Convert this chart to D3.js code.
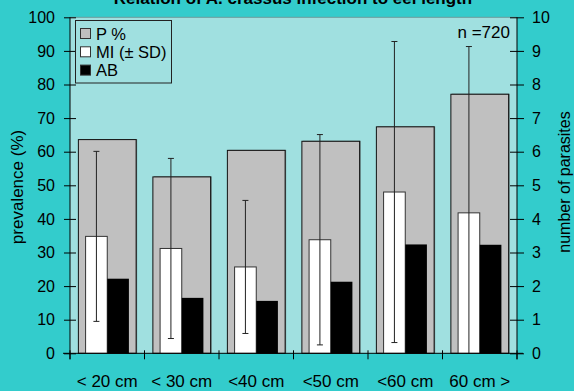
<!DOCTYPE html>
<html>
<head>
<meta charset="utf-8">
<script src="https://cdn.jsdelivr.net/npm/d3@7"></script>
<style>
  body { margin: 0; background: #33cccc; }
  svg { display: block; font-family: Arial, "Liberation Sans", sans-serif; }
</style>
</head>
<body>
<div id="chart"></div>
<script>
// eel length classes
const categories = ['< 20 cm', '< 30 cm', '<40 cm', '<50 cm', '<60 cm', '60 cm >'];
// P % (left axis)
const prevalence = [63.6, 52.5, 60.4, 63.1, 67.4, 77.1];
// MI and SD (right axis)
const meanIntensity = [3.48, 3.12, 2.57, 3.38, 4.80, 4.18];
const sdIntensity = [2.53, 2.68, 1.98, 3.13, 4.48, 4.95];
// AB (right axis)
const abundance = [2.22, 1.65, 1.56, 2.13, 3.24, 3.23];

const leftTicks = [0, 10, 20, 30, 40, 50, 60, 70, 80, 90, 100];
const rightTicks = [0, 1, 2, 3, 4, 5, 6, 7, 8, 9, 10];

const width = 574, height = 391;
const plot = { left: 70, right: 517, top: 17.3, bottom: 353.3 };

const svg = d3.select('#chart').append('svg')
    .attr('width', width)
    .attr('height', height);

svg.append('rect').attr('width', width).attr('height', height).attr('fill', '#33cccc');

// plot area
svg.append('rect')
    .attr('x', plot.left).attr('y', plot.top)
    .attr('width', plot.right - plot.left).attr('height', plot.bottom - plot.top)
    .attr('fill', '#a0e0e0');
svg.append('line')
    .attr('x1', plot.left).attr('x2', plot.right)
    .attr('y1', plot.top).attr('y2', plot.top)
    .attr('stroke', '#6f9c9c').attr('stroke-width', 1);

const x = d3.scaleBand().domain(categories).range([plot.left, plot.right]).paddingInner(0.225).paddingOuter(0.1125);
const xSub = d3.scaleBand().domain(['MI', 'AB']).range([0, x.bandwidth()]).paddingInner(0).paddingOuter(0.333);
const yLeft = d3.scaleLinear().domain([0, 100]).range([plot.bottom, plot.top]);
const yRight = d3.scaleLinear().domain([0, 10]).range([plot.bottom, plot.top]);

// 数据行
const rows = categories.map((c, i) => ({
    cat: c, p: prevalence[i], mi: meanIntensity[i], sd: sdIntensity[i], ab: abundance[i]
}));

// gray prevalence bars (with a little shadow)
const bars = svg.append('g');
bars.selectAll('rect.shadow').data(rows).join('rect')
    .attr('class', 'shadow')
    .attr('x', d => x(d.cat) + 1)
    .attr('y', d => yLeft(d.p) - 0.5)
    .attr('width', x.bandwidth())
    .attr('height', d => plot.bottom - yLeft(d.p) + 0.5)
    .attr('fill', '#5a6d6d');
bars.selectAll('rect.p').data(rows).join('rect')
    .attr('class', 'p')
    .attr('x', d => x(d.cat))
    .attr('y', d => yLeft(d.p))
    .attr('width', x.bandwidth())
    .attr('height', d => plot.bottom - yLeft(d.p))
    .attr('fill', '#c0c0c0')
    .attr('stroke', '#111').attr('stroke-width', 1);

bars.selectAll('rect.mi').data(rows).join('rect')
    .attr('class', 'mi')
    .attr('x', d => x(d.cat) + xSub('MI'))
    .attr('y', d => yRight(d.mi))
    .attr('width', xSub.bandwidth())
    .attr('height', d => plot.bottom - yRight(d.mi))
    .attr('fill', '#ffffff')
    .attr('stroke', '#333').attr('stroke-width', 1);

bars.selectAll('rect.ab').data(rows).join('rect')
    .attr('class', 'ab')
    .attr('x', d => x(d.cat) + xSub('AB'))
    .attr('y', d => yRight(d.ab))
    .attr('width', xSub.bandwidth())
    .attr('height', d => plot.bottom - yRight(d.ab))
    .attr('fill', '#000000');

// error bars on MI
const errG = svg.append('g').attr('stroke', '#222').attr('stroke-width', 1);
const cx = d => x(d.cat) + xSub('MI') + xSub.bandwidth() / 2;
errG.selectAll('line.v').data(rows).join('line')
    .attr('x1', cx).attr('x2', cx)
    .attr('y1', d => yRight(d.mi + d.sd))
    .attr('y2', d => yRight(Math.max(0, d.mi - d.sd)));
errG.selectAll('line.top').data(rows).join('line')
    .attr('x1', d => cx(d) - 3).attr('x2', d => cx(d) + 3)
    .attr('y1', d => yRight(d.mi + d.sd)).attr('y2', d => yRight(d.mi + d.sd));
errG.selectAll('line.bot').data(rows.filter(d => d.mi - d.sd > 0)).join('line')
    .attr('x1', d => cx(d) - 3).attr('x2', d => cx(d) + 3)
    .attr('y1', d => yRight(d.mi - d.sd)).attr('y2', d => yRight(d.mi - d.sd));

// axes
const leftAxis = svg.append('g')
    .attr('transform', `translate(${plot.left},0)`)
    .call(d3.axisLeft(yLeft).tickValues(leftTicks).tickSize(6).tickPadding(9));
leftAxis.select('.domain').attr('d', `M0,${plot.top}V${plot.bottom + 6}`);
leftAxis.selectAll('.tick line').attr('x1', 6);

const rightAxis = svg.append('g')
    .attr('transform', `translate(${plot.right},0)`)
    .call(d3.axisRight(yRight).tickValues(rightTicks).tickSize(7).tickPadding(8));
rightAxis.select('.domain').attr('d', `M0,${plot.top}V${plot.bottom + 6}`);
rightAxis.selectAll('.tick line').attr('x1', -7);

[leftAxis, rightAxis].forEach(g => {
    g.selectAll('text').attr('font-size', 16).attr('fill', '#000').attr('font-family', 'Arial, "Liberation Sans", sans-serif');
    g.selectAll('line, .domain').attr('stroke', '#000');
});

// x axis: line with ticks on the band boundaries
const xAxis = svg.append('g');
xAxis.append('line')
    .attr('x1', plot.left - 7).attr('x2', plot.right + 6)
    .attr('y1', plot.bottom).attr('y2', plot.bottom)
    .attr('stroke', '#000');
const boundaries = categories.map(c => x(c) - x.step() * x.paddingInner() / 2).concat([plot.right]);
xAxis.selectAll('line.t').data(boundaries).join('line')
    .attr('class', 't')
    .attr('x1', d => d).attr('x2', d => d)
    .attr('y1', plot.bottom - 3).attr('y2', plot.bottom + 6)
    .attr('stroke', '#000');
xAxis.selectAll('text').data(categories).join('text')
    .attr('x', d => x(d) + x.bandwidth() / 2)
    .attr('y', 387)
    .attr('text-anchor', 'middle')
    .attr('font-size', 17)
    .text(d => d);

// axis titles
svg.append('text')
    .attr('transform', `translate(23,187) rotate(-90)`)
    .attr('text-anchor', 'middle')
    .attr('font-size', 17)
    .text('prevalence (%)');
svg.append('text')
    .attr('transform', `translate(570,182) rotate(-90)`)
    .attr('text-anchor', 'middle')
    .attr('font-size', 16)
    .text('number of parasites');

// title (cut off at top)
svg.append('text')
    .attr('x', 293).attr('y', 4)
    .attr('text-anchor', 'middle')
    .attr('font-size', 17)
    .attr('font-weight', 'bold')
    .text('Relation of A. crassus  infection to eel length');

// n
svg.append('text')
    .attr('x', 510).attr('y', 38)
    .attr('text-anchor', 'end')
    .attr('font-size', 17)
    .text('n =720');

// legend
const legendItems = [
    { label: 'P %', fill: '#c0c0c0' },
    { label: 'MI (± SD)', fill: '#ffffff' },
    { label: 'AB', fill: '#000000' }
];
const legend = svg.append('g');
legend.append('rect')
    .attr('x', 75.5).attr('y', 20.5).attr('width', 96).attr('height', 62.5)
    .attr('fill', '#a0e0e0').attr('stroke', '#222');
const item = legend.selectAll('g.item').data(legendItems).join('g')
    .attr('class', 'item')
    .attr('transform', (d, i) => `translate(0,${28.5 + i * 18.3})`);
item.append('rect')
    .attr('x', 80.5).attr('y', 0).attr('width', 10).attr('height', 10)
    .attr('fill', d => d.fill).attr('stroke', '#333');
item.append('text')
    .attr('x', 96).attr('y', 11)
    .attr('font-size', 16.5)
    .text(d => d.label);
</script>
</body>
</html>
